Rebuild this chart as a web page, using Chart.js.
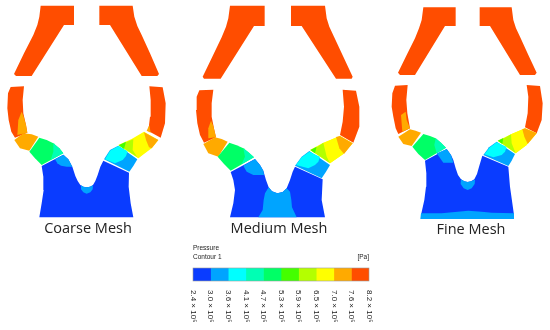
<!DOCTYPE html>
<html>
<head>
<meta charset="utf-8">
<script src="https://cdn.jsdelivr.net/npm/chart.js@4"></script>
<style>
  html, body { margin: 0; padding: 0; background: #fff; }
  #wrap { position: relative; width: 550px; height: 330px; overflow: hidden; }
  #wrap div { position: absolute; }
  canvas { filter: blur(0.35px); }
</style>
</head>
<body>
<div id="wrap">
  <div style="left:0;top:0;width:550px;height:330px"><canvas id="meshChart"></canvas></div>
  <div style="left:170px;top:240px;width:210px;height:90px"><canvas id="scaleChart"></canvas></div>
</div>
<script>
// colour bar
const pressureLevels = [2.4, 2.98, 3.56, 4.14, 4.72, 5.3, 5.88, 6.46, 7.04, 7.62, 8.2]
const pressureLabels = ['2.4 × 10⁵', '3.0 × 10⁵', '3.6 × 10⁵', '4.1 × 10⁵', '4.7 × 10⁵', '5.3 × 10⁵', '5.9 × 10⁵', '6.5 × 10⁵', '7.0 × 10⁵', '7.6 × 10⁵', '8.2 × 10⁵']
const bandColors = ['#0a3cff', '#00a4ff', '#00ffff', '#00ffb4', '#00ff66', '#44ff00', '#b4ff00', '#ffff00', '#ffaa00', '#ff4d00']
const [BLUE, SKY, CYAN, AQUA, GREEN, LEAF, LIME, YELLOW, ORANGE, RED] = bandColors

const captions = ['Coarse Mesh', 'Medium Mesh', 'Fine Mesh']
const captionX = [88, 279, 471]
const captionY = [229, 229, 230]

// x offset of each mesh, outlines are in units of 1/3 px
const meshOffset = [0, 540, 1095]

// coarse mesh
const coarseInletL = [[122,17],[222,17],[222,75],[192,75],[95,228],[48,228],[42,222],[72,160],[100,105],[112,75],[118,50]]
const coarseInletR = [[298,17],[398,17],[403,50],[412,78],[425,105],[450,160],[477,222],[472,228],[425,228],[330,75],[298,75]]
const coarseWallL = [[32,261],[72,259],[68,300],[70,340],[78,375],[82,398],[45,413],[34,395],[26,360],[22,325],[24,280]]
const coarseWallLCore = [[52,405],[55,360],[65,335],[71,350],[78,375],[82,398]]
const coarseWallR = [[448,259],[488,262],[497,310],[495,370],[482,413],[445,393],[450,350],[452,300]]
const coarseWallRCore = [[440,392],[448,375],[452,398]]
const coarsePortA = [[43,420],[70,400],[95,403],[115,410],[88,452],[60,445]]
const coarsePortB = [[118,413],[140,420],[160,430],[178,445],[190,460],[125,495],[105,475],[88,455]]
const coarsePortBTip = [[160,430],[178,445],[190,460],[152,480],[160,455]]
const coarseBody = [[125,498],[190,464],[205,478],[217,500],[226,528],[233,543],[241,555],[250,560],[260,562],[270,560],[279,555],[286,543],[293,525],[301,500],[310,482],[387,518],[386,560],[392,610],[400,652],[118,652],[125,610],[131,570],[130,530]]
const coarseBodyPatch = [[165,478],[190,464],[205,478],[217,500],[200,500],[183,497],[172,490]]
const coarseBodyDrop = [[243,556],[250,560],[260,562],[270,560],[279,556],[278,568],[271,577],[260,581],[250,577],[243,568]]
const coarsePortC = [[312,478],[330,450],[355,437],[412,478],[400,498],[388,515]]
const coarsePortCCore = [[315,478],[330,452],[355,438],[383,453],[378,468],[368,480],[345,490]]
const coarsePortD = [[355,435],[395,417],[432,395],[475,420],[455,445],[415,475]]
const coarsePortDYellow = [[398,418],[432,398],[447,445],[415,475],[410,470],[398,450]]
const coarsePortDLime = [[360,437],[378,427],[400,418],[398,450],[412,472]]
const coarsePortDLeaf = [[356,436],[378,425],[372,447]]
const coarsePortDOrange = [[432,397],[475,420],[455,445],[447,442],[438,420]]

// medium mesh
const mediumInletL = [[150,17],[254,17],[254,78],[222,78],[122,236],[72,236],[68,230],[97,170],[125,112],[138,80],[145,55]]
const mediumInletR = [[333,17],[435,17],[440,55],[448,80],[462,110],[490,170],[518,230],[515,236],[468,236],[365,78],[333,78]]
const mediumWallL = [[58,271],[100,269],[95,310],[95,350],[103,390],[108,412],[72,428],[60,405],[52,370],[48,330],[50,290]]
const mediumWallLCore = [[85,415],[85,385],[93,362],[100,378],[108,412]]
const mediumWallR = [[488,269],[528,272],[538,320],[538,380],[520,428],[480,405],[488,365],[492,320]]
const mediumPortA = [[70,432],[105,412],[125,417],[143,425],[115,470],[85,460]]
const mediumPortB = [[148,428],[170,436],[190,445],[207,458],[222,472],[152,512],[132,492],[113,470]]
const mediumPortBTip = [[190,445],[207,458],[222,472],[185,492],[195,470]]
const mediumBody = [[152,516],[225,477],[240,495],[250,512],[258,540],[266,562],[276,574],[292,580],[308,576],[320,565],[330,540],[338,515],[345,500],[428,538],[425,600],[435,652],[150,652],[160,610],[165,570],[160,540]]
const mediumBodyPatch = [[190,497],[225,477],[240,495],[250,512],[252,525],[220,525],[200,515]]
const mediumBodyBase = [[266,562],[276,574],[292,580],[308,576],[320,565],[330,575],[334,600],[336,622],[350,652],[235,652],[248,630],[251,600],[255,580]]
const mediumPortC = [[345,497],[365,470],[388,453],[450,495],[438,515],[425,535]]
const mediumPortCCore = [[348,495],[365,472],[388,455],[420,470],[415,485],[405,495],[385,505]]
const mediumPortD = [[390,450],[430,428],[480,408],[518,430],[490,462],[450,490]]
const mediumPortDYellow = [[430,430],[470,412],[480,445],[490,462],[450,490],[440,470]]
const mediumPortDLime = [[395,452],[430,428],[440,470],[450,490]]
const mediumPortDLeaf = [[391,450],[410,440],[405,460]]
const mediumPortDOrange = [[468,411],[480,408],[518,430],[492,462],[478,445]]

// fine mesh
const fineInletL = [[175,22],[272,22],[272,78],[240,78],[150,225],[105,225],[99,218],[125,165],[150,115],[162,85],[170,60]]
const fineInletR = [[344,22],[440,22],[445,60],[453,85],[465,110],[490,165],[515,218],[510,225],[465,225],[375,78],[344,78]]
const fineWallL = [[90,257],[128,255],[124,300],[127,340],[135,385],[100,402],[92,385],[85,350],[80,320],[82,280]]
const fineWallLCore = [[112,395],[108,345],[122,335],[125,360],[135,385]]
const fineWallR = [[485,255],[525,258],[533,310],[530,360],[515,400],[480,382],[488,340],[490,290]]
const finePortA = [[100,410],[135,388],[152,392],[168,398],[140,438],[115,432]]
const finePortB = [[175,402],[195,408],[212,415],[228,428],[243,443],[180,480],[160,462],[142,440]]
const finePortBTip = [[212,415],[228,428],[243,443],[215,460],[208,435]]
const fineBody = [[180,482],[245,447],[258,465],[265,480],[272,505],[279,525],[288,538],[298,544],[308,546],[318,544],[328,538],[336,522],[343,497],[352,467],[430,500],[435,560],[447,645],[168,645],[178,600],[183,560],[184,520]]
const fineBodyPatch = [[215,460],[245,447],[258,465],[265,488],[235,488]]
const fineBodyDrop = [[288,538],[298,544],[308,546],[318,544],[330,539],[329,552],[320,565],[308,570],[296,565],[287,552]]
const fineBodyStrip = [[168,640],[230,640],[270,636],[310,632],[350,635],[380,638],[447,640],[447,657],[166,657]]
const finePortC = [[355,465],[372,442],[395,425],[450,462],[440,482],[430,498]]
const finePortCCore = [[358,463],[375,442],[395,427],[425,440],[420,455],[410,465],[385,472]]
const finePortD = [[398,422],[440,402],[480,385],[515,400],[485,435],[452,460]]
const finePortDYellow = [[438,403],[475,387],[482,420],[485,435],[452,460],[440,430]]
const finePortDLime = [[402,424],[438,403],[440,430],[452,460]]
const finePortDLeaf = [[398,422],[415,414],[412,432]]
const finePortDOrange = [[472,388],[480,385],[515,400],[488,432],[478,410]]

const coarseLayers = [
  [coarseInletL, RED], [coarseInletR, RED], [coarseWallL, RED], [coarseWallLCore, ORANGE], [coarseWallR, RED], [coarseWallRCore, ORANGE],
  [coarsePortA, ORANGE], [coarsePortB, GREEN], [coarsePortBTip, AQUA], [coarseBody, BLUE], [coarseBodyPatch, SKY], [coarseBodyDrop, SKY],
  [coarsePortC, SKY], [coarsePortCCore, CYAN], [coarsePortD, YELLOW], [coarsePortDYellow, YELLOW], [coarsePortDLime, LIME], [coarsePortDLeaf, LEAF], [coarsePortDOrange, ORANGE]
]
const mediumLayers = [
  [mediumInletL, RED], [mediumInletR, RED], [mediumWallL, RED], [mediumWallLCore, ORANGE], [mediumWallR, RED],
  [mediumPortA, ORANGE], [mediumPortB, GREEN], [mediumPortBTip, AQUA], [mediumBody, BLUE], [mediumBodyPatch, SKY], [mediumBodyBase, SKY],
  [mediumPortC, SKY], [mediumPortCCore, CYAN], [mediumPortD, YELLOW], [mediumPortDYellow, YELLOW], [mediumPortDLime, LIME], [mediumPortDLeaf, LEAF], [mediumPortDOrange, ORANGE]
]
const fineLayers = [
  [fineInletL, RED], [fineInletR, RED], [fineWallL, RED], [fineWallLCore, ORANGE], [fineWallR, RED],
  [finePortA, ORANGE], [finePortB, GREEN], [finePortBTip, AQUA], [fineBody, BLUE], [fineBodyPatch, SKY], [fineBodyDrop, SKY], [fineBodyStrip, SKY],
  [finePortC, SKY], [finePortCCore, CYAN], [finePortD, YELLOW], [finePortDYellow, YELLOW], [finePortDLime, LIME], [finePortDLeaf, LEAF], [finePortDOrange, ORANGE]
]

function toDatasets(layers, offset) {
  return layers.map(([points, color]) => ({
    data: points.map(([x, y]) => ({ x: x + offset, y: y })),
    showLine: true,
    fill: 'shape',
    backgroundColor: color,
    borderColor: color,
    borderWidth: 0,
    pointRadius: 0
  }))
}

// chart.js paints the first dataset last, so flip to keep the cores on top
const meshDatasets = [coarseLayers, mediumLayers, fineLayers]
  .flatMap((layers, i) => toDatasets(layers, meshOffset[i]))
  .reverse()

const captionPlugin = {
  id: 'captions',
  afterDraw(chart) {
    const ctx = chart.ctx
    ctx.save()
    ctx.fillStyle = '#222'
    ctx.font = '14.5px "Open Sans"'
    ctx.textAlign = 'center'
    ctx.textBaseline = 'middle'
    captions.forEach((text, i) => ctx.fillText(text, captionX[i], captionY[i]))
    ctx.restore()
  }
}

new Chart(document.getElementById('meshChart'), {
  type: 'scatter',
  data: { datasets: meshDatasets },
  options: {
    responsive: true,
    maintainAspectRatio: false,
    animation: false,
    layout: { padding: 0 },
    plugins: { legend: { display: false }, tooltip: { enabled: false } },
    scales: {
      x: { display: false, min: 0, max: 1650 },
      y: { display: false, min: 0, max: 990, reverse: true }
    }
  },
  plugins: [captionPlugin]
})

const scaleLabelPlugin = {
  id: 'scaleLabels',
  afterDraw(chart) {
    const ctx = chart.ctx
    const area = chart.chartArea
    const xScale = chart.scales.x
    ctx.save()
    ctx.strokeStyle = '#999'
    ctx.lineWidth = 0.6
    ctx.strokeRect(area.left, area.top, area.right - area.left, area.bottom - area.top)
    ctx.fillStyle = '#222'
    ctx.font = '6.5px "Liberation Sans"'
    ctx.textBaseline = 'middle'
    ctx.fillText('Pressure', area.left, 8)
    ctx.fillText('Contour 1', area.left, 17)
    ctx.textAlign = 'right'
    ctx.fillText('[Pa]', area.right, 17)
    ctx.font = '8px "Liberation Sans"'
    ctx.textAlign = 'left'
    pressureLevels.forEach((level, i) => {
      ctx.save()
      ctx.translate(xScale.getPixelForValue(level), 50)
      ctx.rotate(Math.PI / 2)
      ctx.fillText(pressureLabels[i], 0, 0)
      ctx.restore()
    })
    ctx.restore()
  }
}

new Chart(document.getElementById('scaleChart'), {
  type: 'bar',
  data: {
    labels: ['Pressure'],
    datasets: bandColors.map((color, i) => ({
      data: [[pressureLevels[i], pressureLevels[i + 1]]],
      backgroundColor: color,
      grouped: false,
      barPercentage: 1,
      categoryPercentage: 1
    }))
  },
  options: {
    indexAxis: 'y',
    responsive: true,
    maintainAspectRatio: false,
    animation: false,
    layout: { padding: { left: 23, right: 11, top: 28, bottom: 49 } },
    plugins: { legend: { display: false }, tooltip: { enabled: false } },
    scales: {
      x: { display: false, min: 2.4, max: 8.2 },
      y: { display: false }
    }
  },
  plugins: [scaleLabelPlugin]
})
</script>
</body>
</html>
